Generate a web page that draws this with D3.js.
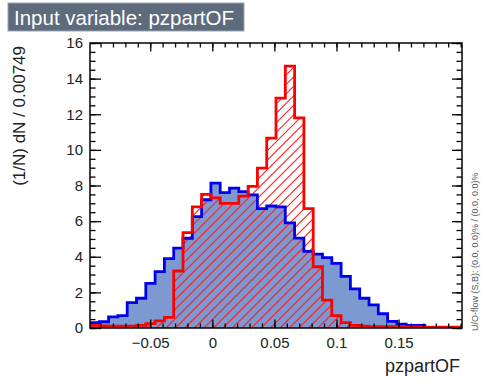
<!DOCTYPE html>
<html><head><meta charset="utf-8">
<script src="https://cdn.jsdelivr.net/npm/d3@7/dist/d3.min.js"></script>
<style>body{margin:0;background:#fff;}svg{display:block;font-family:"Liberation Sans",Arial,Helvetica,sans-serif;}</style>
</head><body>
<svg id="chart" width="483" height="382"></svg>
<script>
// ---- data ----
const binWidth = 0.00749;
const xMin = -0.0985;
const nBins = 40;
const signalValues = [0.30, 0.35, 0.63, 0.70, 1.42, 1.67, 2.50, 3.16, 3.90, 4.48,
  5.04, 6.25, 7.20, 8.13, 7.60, 7.85, 7.66, 7.47, 6.70, 6.85,
  6.80, 5.90, 5.05, 4.30, 4.15, 3.95, 3.63, 2.90, 2.20, 1.67,
  1.30, 0.80, 0.37, 0.22, 0.15, 0.15, 0.03, 0.02, 0.01, 0.00];
const backgroundValues = [0.15, 0.12, 0.10, 0.10, 0.10, 0.15, 0.25, 0.40, 0.60, 3.20,
  5.35, 6.80, 7.50, 7.30, 7.00, 7.00, 7.40, 7.95, 8.97, 10.66,
  12.90, 14.70, 11.80, 6.70, 3.44, 1.57, 0.70, 0.30, 0.15, 0.10,
  0.08, 0.07, 0.07, 0.06, 0.06, 0.05, 0.05, 0.05, 0.05, 0.05];
const xTickValues = [-0.05, 0, 0.05, 0.1, 0.15];
const xTickLabels = ["\u22120.05", "0", "0.05", "0.1", "0.15"];
const yTickValues = [0, 2, 4, 6, 8, 10, 12, 14, 16];
const yTickLabels = ["0", "2", "4", "6", "8", "10", "12", "14", "16"];
const titleText = "Input variable: pzpartOF";
const xTitle = "pzpartOF";
const yTitle = "(1/N) dN / 0.00749";
const flowText = "U/O-flow (S,B): (0.0, 0.0)% / (0.0, 0.0)%";

// ---- layout ----
const L = 90, R = 462, T = 43, B = 328;
const xMax = xMin + nBins * binWidth;
const x = d3.scaleLinear().domain([xMin, xMax]).range([L, R]);
const y = d3.scaleLinear().domain([0, 16]).range([B, T]);

const svg = d3.select("#chart");
const defs = svg.append("defs");
defs.append("clipPath").attr("id", "frameClip").append("rect")
  .attr("x", L).attr("y", T).attr("width", R - L).attr("height", B - T);

function toPoints(vals) {
  const pts = vals.map((v, i) => ({ x: xMin + i * binWidth, v }));
  pts.push({ x: xMax, v: vals[vals.length - 1] });
  return pts;
}
const sig = toPoints(signalValues), bkg = toPoints(backgroundValues);
const area = d3.area().curve(d3.curveStepAfter).x(d => x(d.x)).y0(y(0)).y1(d => y(d.v));
const line = d3.line().curve(d3.curveStepAfter).x(d => x(d.x)).y(d => y(d.v));

defs.append("clipPath").attr("id", "bkgClip").append("path").attr("d", area(bkg));

const g = svg.append("g").attr("clip-path", "url(#frameClip)");
g.append("path").attr("d", area(sig)).attr("fill", "#7d99d1");
// hatch (///) for background, clipped to its area
const H = B - T, hs = 9.5;
const starts = d3.range(L - H - hs, R + hs, hs);
g.append("g").attr("clip-path", "url(#bkgClip)")
  .selectAll("line").data(starts).join("line")
  .attr("x1", d => d).attr("y1", B).attr("x2", d => d + H).attr("y2", T)
  .attr("stroke", "#ff2020").attr("stroke-width", 1.1);
g.append("path").attr("d", line(sig)).attr("fill", "none").attr("stroke", "#0000ee").attr("stroke-width", 2.8);
g.append("path").attr("d", line(bkg)).attr("fill", "none").attr("stroke", "#ff0000").attr("stroke-width", 2.8);

// ---- axes ----
const xMinor = d3.range(-9, 21).map(i => i / 100).filter(v => v >= xMin && v <= xMax);
const yMinor = d3.range(0, 33).map(i => i / 2);
function styleAxis(sel) {
  sel.select(".domain").remove();
  sel.selectAll(".tick line").attr("stroke", "#000").attr("stroke-width", 1.3);
  sel.selectAll("text").attr("fill", "#222").style("font-size", "15px")
    .style("font-family", '"Liberation Sans",Arial,Helvetica,sans-serif');
}
// bottom
svg.append("g").attr("transform", `translate(0,${B})`)
  .call(d3.axisBottom(x).tickValues(xMinor).tickSize(-4.5).tickFormat("")).call(styleAxis);
svg.append("g").attr("transform", `translate(0,${B})`)
  .call(d3.axisBottom(x).tickValues(xTickValues).tickSize(-8.5).tickPadding(9)
    .tickFormat((d, i) => xTickLabels[i])).call(styleAxis);
// top
svg.append("g").attr("transform", `translate(0,${T})`)
  .call(d3.axisTop(x).tickValues(xMinor).tickSize(-4.5).tickFormat("")).call(styleAxis);
svg.append("g").attr("transform", `translate(0,${T})`)
  .call(d3.axisTop(x).tickValues(xTickValues).tickSize(-8.5).tickFormat("")).call(styleAxis);
// left
svg.append("g").attr("transform", `translate(${L},0)`)
  .call(d3.axisLeft(y).tickValues(yMinor).tickSize(-5.5).tickFormat("")).call(styleAxis);
svg.append("g").attr("transform", `translate(${L},0)`)
  .call(d3.axisLeft(y).tickValues(yTickValues).tickSize(-11).tickPadding(7)
    .tickFormat((d, i) => yTickLabels[i])).call(styleAxis);
// right
svg.append("g").attr("transform", `translate(${R},0)`)
  .call(d3.axisRight(y).tickValues(yMinor).tickSize(-5.5).tickFormat("")).call(styleAxis);
svg.append("g").attr("transform", `translate(${R},0)`)
  .call(d3.axisRight(y).tickValues(yTickValues).tickSize(-10).tickFormat("")).call(styleAxis);

// frame
svg.append("rect").attr("x", L).attr("y", T).attr("width", R - L).attr("height", B - T)
  .attr("fill", "none").attr("stroke", "#000").attr("stroke-width", 1.5);

// titles
svg.append("text").attr("x", 460).attr("y", 372).attr("text-anchor", "end")
  .style("font-size", "18px").attr("fill", "#222").text(xTitle);
svg.append("text").attr("transform", "translate(25,46) rotate(-90)").attr("text-anchor", "end")
  .style("font-size", "17px").attr("fill", "#222").text(yTitle);
svg.append("text").attr("transform", "translate(478,331) rotate(-90)").attr("text-anchor", "start")
  .style("font-size", "9px").attr("fill", "#555").text(flowText);

// title box
svg.append("rect").attr("x", 8).attr("y", 3).attr("width", 236).attr("height", 28)
  .attr("fill", "#5d6b7d").attr("stroke", "#9aa5b3").attr("stroke-width", 1);
svg.append("text").attr("x", 14).attr("y", 25).style("font-size", "20.5px")
  .attr("fill", "#fff").text(titleText);
</script>
</body></html>
